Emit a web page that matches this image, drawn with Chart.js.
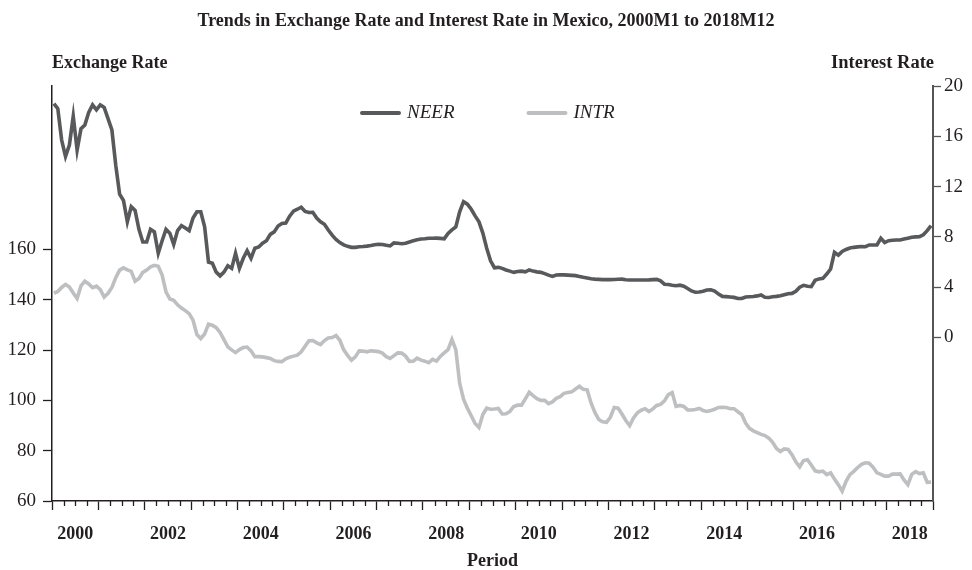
<!DOCTYPE html>
<html>
<head>
<meta charset="utf-8">
<script src="https://cdn.jsdelivr.net/npm/chart.js@4.4.1/dist/chart.umd.min.js"></script>
<style>
  html, body { margin: 0; padding: 0; background: #fff; }
  #wrap { width: 972px; height: 570px; }
</style>
</head>
<body>
<div id="wrap"><canvas id="chart" width="972" height="570"></canvas></div>
<script>
// monthly data, 2000M1 .. 2018M12
const firstYear = 2000;
const lastYear = 2018;
const seriesNames = ["NEER", "INTR"];

// dark line, read against the right (Interest Rate) axis
const neer = [
  18.6, 18.2, 15.7, 14.4, 15.3, 17.6, 14.9, 16.6, 16.9, 17.9, 18.5, 18.1,
  18.5, 18.3, 17.4, 16.5, 13.7, 11.4, 10.9, 9.2, 10.4, 10.1, 8.6, 7.6,
  7.6, 8.6, 8.4, 6.7, 7.7, 8.6, 8.3, 7.4, 8.5, 8.9, 8.7, 8.5,
  9.5, 10.0, 10.0, 8.8, 6.0, 5.9, 5.2, 4.9, 5.2, 5.7, 5.5, 6.7,
  5.5, 6.3, 6.9, 6.3, 7.1, 7.2, 7.5, 7.7, 8.2, 8.4, 8.86, 9.06,
  9.1, 9.65, 10.05, 10.2, 10.36, 10.03, 9.94, 9.96, 9.5, 9.2, 9.0, 8.55,
  8.14, 7.8, 7.55, 7.37, 7.25, 7.17, 7.17, 7.22, 7.24, 7.27, 7.32, 7.38,
  7.42, 7.4, 7.33, 7.28, 7.52, 7.49, 7.46, 7.5, 7.6, 7.69, 7.78, 7.83,
  7.85, 7.89, 7.89, 7.9, 7.88, 7.85, 8.28, 8.56, 8.8, 10.0, 10.8, 10.6,
  10.2, 9.67, 9.2, 8.3, 7.1, 6.1, 5.55, 5.58, 5.5, 5.37, 5.28, 5.18,
  5.25, 5.28, 5.22, 5.37, 5.28, 5.22, 5.18, 5.08, 4.96, 4.86, 4.97, 4.99,
  4.98, 4.96, 4.94, 4.92, 4.86, 4.79, 4.73, 4.67, 4.64, 4.62, 4.6, 4.6,
  4.6, 4.61, 4.63, 4.64, 4.6, 4.57, 4.57, 4.57, 4.57, 4.57, 4.58, 4.6,
  4.62, 4.5, 4.24, 4.21, 4.16, 4.12, 4.16, 4.08, 3.9, 3.7, 3.6, 3.62,
  3.68, 3.78, 3.8, 3.7, 3.45, 3.27, 3.25, 3.22, 3.19, 3.1, 3.1, 3.22,
  3.24, 3.26, 3.31, 3.38, 3.2, 3.18, 3.24, 3.27, 3.32, 3.4, 3.48, 3.51,
  3.68, 4.0, 4.15, 4.07, 4.05, 4.55, 4.66, 4.7, 5.05, 5.45, 6.77, 6.55,
  6.85, 7.0, 7.12, 7.17, 7.21, 7.24, 7.22, 7.36, 7.36, 7.36, 7.89, 7.55,
  7.7, 7.73, 7.75, 7.76, 7.83, 7.9, 7.97, 8.0, 8.02, 8.17, 8.5, 8.9
];

// light line, read against the left (Exchange Rate) axis
const intr = [
  142.6, 143.3, 144.9, 146.1, 145.1, 142.7, 140.5, 145.5, 147.4, 146.3, 144.8, 145.4,
  144.0, 141.1, 142.6, 144.9, 148.8, 151.8, 152.7, 151.9, 151.3, 147.4, 148.5, 150.9,
  151.8, 153.1, 153.7, 153.3, 149.8, 143.2, 140.3, 139.8, 138.0, 136.7, 135.7, 134.5,
  131.9, 126.2, 124.6, 126.4, 130.3, 129.9, 128.9, 127.0, 124.2, 121.3, 120.1, 119.0,
  120.2, 121.0, 121.2, 119.7, 117.4, 117.4, 117.3, 117.0, 116.7, 115.8, 115.5, 115.4,
  116.5, 117.2, 117.6, 118.0, 119.3, 121.5, 123.7, 123.8, 122.9, 122.2, 123.8, 124.8,
  125.0, 125.8, 123.9, 120.1, 117.9, 116.0, 117.3, 119.7, 119.6, 119.3, 119.7, 119.6,
  119.4, 118.8, 117.4, 116.7, 117.8, 118.9, 118.8, 117.6, 115.5, 115.6, 116.8, 116.0,
  115.6, 115.0, 116.3, 115.6, 117.5, 118.9, 120.2, 124.2, 120.2, 106.8, 100.5, 96.9,
  93.9, 90.8, 89.2, 94.4, 96.9, 96.5, 96.6, 96.8, 94.6, 94.7, 95.6, 97.6,
  98.1, 98.1, 100.6, 103.2, 101.9, 100.7, 100.0, 100.0, 98.7, 99.4, 100.8, 101.5,
  102.8, 103.1, 103.4, 104.5, 105.6, 104.4, 104.2, 99.0, 95.2, 92.4, 91.5, 91.3,
  93.3, 97.2, 96.9, 94.6, 92.0, 90.0, 93.0, 95.1, 96.1, 96.7, 95.6, 96.6,
  98.0, 98.4, 99.8, 102.3, 103.1, 97.6, 98.0, 97.6, 96.2, 96.2, 96.4, 96.8,
  96.0, 95.6, 96.0, 96.5, 97.2, 97.3, 97.2, 96.7, 96.7, 95.5, 94.4, 91.0,
  88.9, 87.9, 87.2, 86.5, 86.0, 85.0, 83.3, 80.9, 79.7, 80.7, 80.5, 78.4,
  75.6, 73.6, 76.1, 76.4, 74.3, 72.0, 71.6, 71.9, 70.5, 71.2, 68.7, 66.5,
  63.9, 67.8, 70.5, 71.8, 73.3, 74.6, 75.2, 75.0, 73.4, 71.2, 70.6, 69.9,
  69.9, 70.7, 70.7, 70.8, 68.4, 66.5, 70.6, 71.7, 70.9, 71.2, 67.4, 67.5
];

const leftTicks = [60, 80, 100, 120, 140, 160];
const rightTicks = [0, 4, 8, 12, 16, 20];
const yearLabels = [2000, 2002, 2004, 2006, 2008, 2010, 2012, 2014, 2016, 2018];

const chartTitle = "Trends in Exchange Rate and Interest Rate in Mexico, 2000M1 to 2018M12";
const leftTitle = "Exchange Rate";
const rightTitle = "Interest Rate";
const xTitle = "Period";

const ink = "#231f20";
const darkLine = "#58595b";
const lightLine = "#bebfc1";
const serif = "'Liberation Serif', 'DejaVu Serif', serif";

// month labels and their position on the year axis (middle of each month)
const months = [];
for (let y = firstYear; y <= lastYear; y++) {
  for (let m = 1; m <= 12; m++) months.push(y + "M" + m);
}
const toPoints = (vals) => vals.map((v, i) => ({ x: firstYear + (i + 0.5) / 12, y: v }));

// quarter ticks on the time axis
const quarterTicks = [];
for (let q = 0; q <= (lastYear + 1 - firstYear) * 4; q++) quarterTicks.push(firstYear + q * 0.25);

const extraText = {
  id: "extraText",
  afterDraw(chart) {
    const ctx = chart.ctx;
    const area = chart.chartArea;
    ctx.save();
    ctx.fillStyle = ink;
    ctx.textBaseline = "alphabetic";
    ctx.font = "bold 18px " + serif;
    ctx.textAlign = "center";
    ctx.fillText(chartTitle, 486, 26);
    ctx.textAlign = "left";
    ctx.fillText(leftTitle, 52, 68);
    ctx.textAlign = "right";
    ctx.font = "bold 18.5px " + serif;
    ctx.fillText(rightTitle, 934, 68);

    // short quarter ticks under the time axis
    const xs = chart.scales.x;
    ctx.strokeStyle = ink;
    ctx.lineWidth = 1.3;
    quarterTicks.forEach((v) => {
      if (Number.isInteger(v)) return;
      const px = Math.round(xs.getPixelForValue(v)) + 0.5;
      ctx.beginPath();
      ctx.moveTo(px, area.bottom);
      ctx.lineTo(px, area.bottom + 5);
      ctx.stroke();
    });

    // legend inside the plot
    const ds = chart.data.datasets;
    ctx.font = "italic 19px " + serif;
    ctx.textAlign = "left";
    ctx.textBaseline = "middle";
    const ly = area.top + 27;
    let lx = 362;
    ds.forEach((d) => {
      ctx.strokeStyle = d.borderColor;
      ctx.lineWidth = 4;
      ctx.lineCap = "round";
      ctx.beginPath();
      ctx.moveTo(lx, ly);
      ctx.lineTo(lx + 37, ly);
      ctx.stroke();
      ctx.fillStyle = ink;
      ctx.fillText(d.label, lx + 45, ly);
      lx += 45 + ctx.measureText(d.label).width + 74;
    });
    ctx.restore();
  }
};

new Chart(document.getElementById("chart"), {
  type: "line",
  data: {
    datasets: [
      {
        label: seriesNames[0],
        data: toPoints(neer),
        yAxisID: "y1",
        borderColor: darkLine,
        backgroundColor: darkLine,
        borderWidth: 3.6,
        pointRadius: 0,
        tension: 0
      },
      {
        label: seriesNames[1],
        data: toPoints(intr),
        yAxisID: "y",
        borderColor: lightLine,
        backgroundColor: lightLine,
        borderWidth: 3.6,
        pointRadius: 0,
        tension: 0
      }
    ]
  },
  options: {
    responsive: false,
    animation: false,
    devicePixelRatio: 1,
    layout: { padding: { top: 86, left: 0, right: 0, bottom: 0 } },
    plugins: {
      legend: { display: false },
      title: { display: false },
      tooltip: { enabled: false }
    },
    scales: {
      x: {
        type: "linear",
        min: firstYear,
        max: lastYear + 1,
        afterBuildTicks: (s) => { s.ticks = quarterTicks.map((v) => ({ value: v })); },
        afterFit: (s) => { s.height = 69; },
        ticks: {
          autoSkip: false,
          maxRotation: 0,
          padding: 14,
          color: ink,
          font: { family: serif, size: 18, weight: "bold" },
          callback: (v) => {
            const y = v - 0.5;
            return yearLabels.includes(y) ? String(y) : "";
          }
        },
        grid: {
          drawOnChartArea: false,
          tickLength: 9,
          tickWidth: 1.3,
          tickColor: (c) => (Number.isInteger(c.tick.value) ? ink : "rgba(0,0,0,0)")
        },
        border: { display: true, color: ink, width: 1.5 },
        title: {
          display: true,
          text: xTitle,
          color: ink,
          font: { family: serif, size: 18, weight: "bold", lineHeight: 1 },
          padding: { top: 0, bottom: 0 }
        }
      },
      y: {
        position: "left",
        min: 60,
        max: 225,
        afterBuildTicks: (s) => { s.ticks = leftTicks.map((v) => ({ value: v })); },
        afterFit: (s) => { s.width = 52; },
        ticks: {
          padding: 7,
          color: ink,
          font: { family: serif, size: 19 }
        },
        grid: { drawOnChartArea: false, tickLength: 9, tickWidth: 1.3, tickColor: ink },
        border: { display: true, color: ink, width: 1.5 }
      },
      y1: {
        position: "right",
        min: -13,
        max: 20,
        afterBuildTicks: (s) => { s.ticks = rightTicks.map((v) => ({ value: v })); },
        afterFit: (s) => { s.width = 39; },
        ticks: {
          padding: 3,
          color: ink,
          font: { family: serif, size: 19 }
        },
        grid: { drawOnChartArea: false, tickLength: 8, tickWidth: 1.3, tickColor: "#555" },
        border: { display: true, color: "#555", width: 2 }
      }
    }
  },
  plugins: [extraText]
});
</script>
</body>
</html>
